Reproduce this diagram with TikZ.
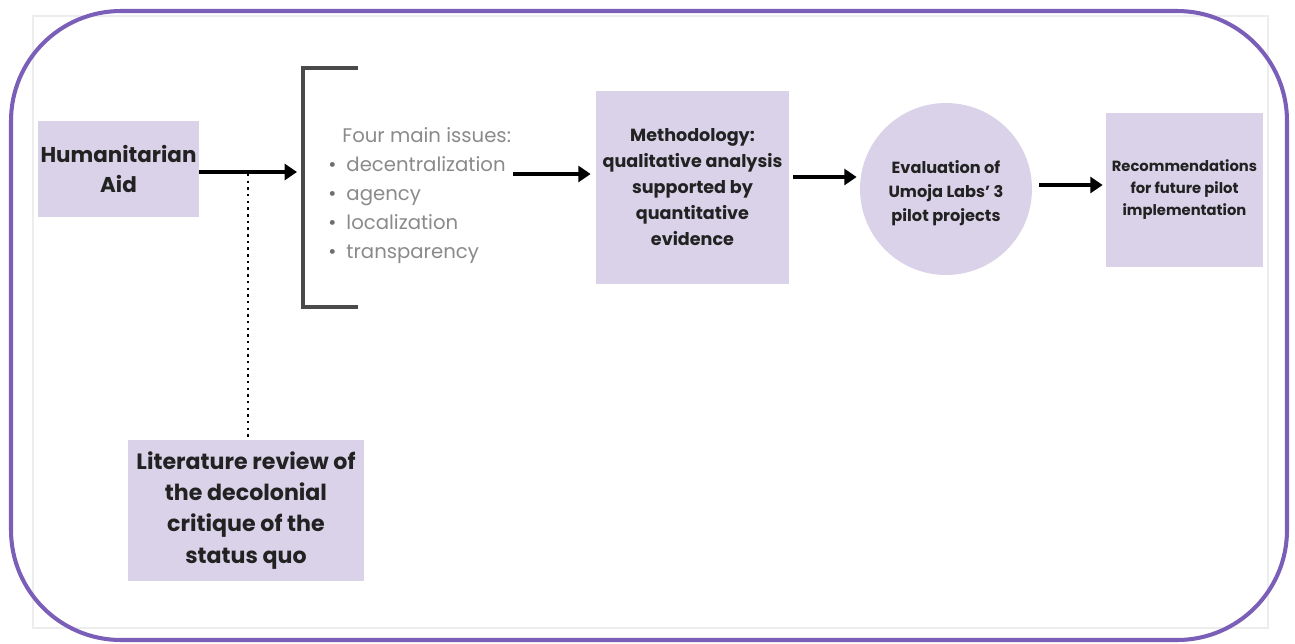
\documentclass[tikz,border=0pt]{standalone}
\usepackage{fontspec}
\setmainfont{Poppins}
\usetikzlibrary{arrows.meta,positioning,calc}
\definecolor{boxcol}{HTML}{D9D2E9}
\definecolor{framecol}{HTML}{7B5EB8}
\definecolor{issuecol}{HTML}{8A8A8A}
\definecolor{brkcol}{HTML}{4A4A4A}
\definecolor{txtcol}{HTML}{222222}

\begin{document}
\begin{tikzpicture}[x=0.02cm, y=-0.02cm,
  box/.style={fill=boxcol, inner sep=0pt, align=center, text=txtcol},
  flow/.style={-{Triangle[length=7pt,width=9pt]}, line width=1.9pt, black}]

\useasboundingbox (0,0) rectangle (1295,643);

% ---------------------------------------------------------------- frame
\draw[black!7, line width=0.6pt] (33,16) rectangle (1268,628);
\draw[framecol, line width=2.3pt, rounded corners=2.2cm] (11,11) rectangle (1287,640);

% ---------------------------------------------------------------- boxes
\node[box, minimum width=3.22cm, minimum height=1.92cm,
  font=\bfseries\fontsize{12.2}{17}\selectfont] (aid) at (118.5,169)
  {Humanitarian\\Aid};
\node[box, minimum width=4.72cm, minimum height=2.82cm,
  font=\bfseries\fontsize{12.6}{17.7}\selectfont] (lit) at (246,510.5)
  {Literature review of\\the decolonial\\critique of the\\status quo};
\node[box, minimum width=3.86cm, minimum height=3.86cm,
  font=\bfseries\fontsize{10}{14.8}\selectfont] (meth) at (692.5,187.5)
  {Methodology:\\qualitative analysis\\supported by\\quantitative\\evidence};
\node[box, circle, minimum size=3.44cm] (eval) at (946,189) {};
\node[inner sep=0pt, align=center, text=txtcol,
  font=\bfseries\fontsize{9.2}{13.6}\selectfont] (evaltxt) at (946,193)
  {Evaluation of\\Umoja Labs' 3\\pilot projects};
\node[box, minimum width=3.14cm, minimum height=3.08cm,
  font=\bfseries\fontsize{8.4}{12.5}\selectfont] (rec) at (1184.5,190)
  {Recommendations\\for future pilot\\implementation};

% ---------------------------------------------------------------- bracket and issues
\draw[brkcol, line width=2.2pt] (358,68) -- (303,68) -- (303,307) -- (358,307);
\node[anchor=north west, inner sep=0pt, align=left, text=issuecol,
  font=\fontsize{11.2}{16.5}\selectfont] (issues) at (328,127)
  {\hspace*{0.28cm}Four main issues:\\
   \textcolor{brkcol!80}{\textbullet}\hspace{0.2cm}decentralization\\
   \textcolor{brkcol!80}{\textbullet}\hspace{0.2cm}agency\\
   \textcolor{brkcol!80}{\textbullet}\hspace{0.2cm}localization\\
   \textcolor{brkcol!80}{\textbullet}\hspace{0.2cm}transparency};

% ---------------------------------------------------------------- connectors
\coordinate (brkin) at (297,172);
\coordinate (issout) at (513,174);
\coordinate (row2) at (0,177);
\coordinate (row3) at (0,185);
\coordinate (tap) at (248,174);

\draw[flow] (aid.east |- brkin) -- (brkin);
\draw[line width=1.7pt, dash pattern=on 1.4pt off 2.4pt] (tap) -- (tap |- lit.north);
\draw[flow, shorten >=0.1cm] (issout) -- (meth.west |- issout);
\draw[flow, shorten <=0.08cm, shorten >=0.06cm] (meth.east |- row2) -- (eval.west |- row2);
\draw[flow, shorten <=0.14cm, shorten >=0.06cm] (eval.east |- row3) -- (rec.west |- row3);

\end{tikzpicture}
\end{document}
